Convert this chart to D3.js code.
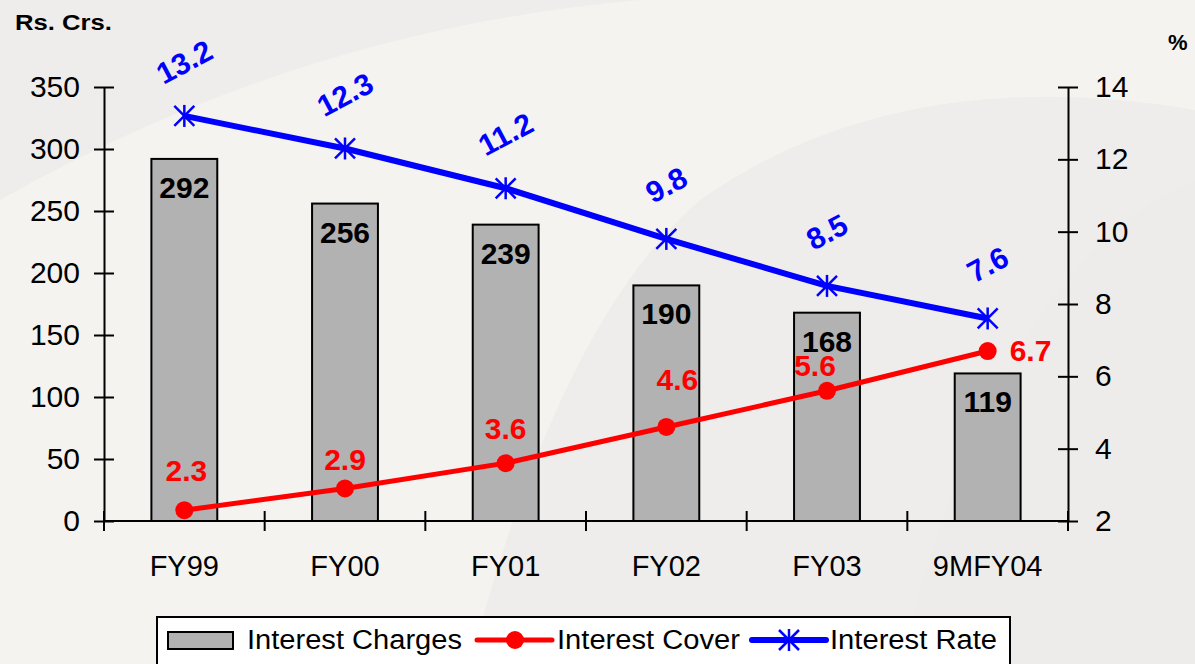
<!DOCTYPE html>
<html lang="en">
<head>
  <meta charset="UTF-8" />
  <title>Interest Charges, Cover and Rate</title>
  <script src="https://d3js.org/d3.v7.min.js"></script>
  <style>
    body { margin: 0; background: #f2f0ed; }
    svg text { font-family: "Liberation Sans", Arial, sans-serif; }
  </style>
</head>
<body>
  <svg id="chart" width="1195" height="664"></svg>
  <script>
    // data
    const categories = ["FY99", "FY00", "FY01", "FY02", "FY03", "9MFY04"];
    const interestCharges = [292, 256, 239, 190, 168, 119];
    const interestCover = [2.3, 2.9, 3.6, 4.6, 5.6, 6.7];
    const interestRate = [13.2, 12.3, 11.2, 9.8, 8.5, 7.6];
    const leftTicks = [0, 50, 100, 150, 200, 250, 300, 350];
    const rightTicks = [2, 4, 6, 8, 10, 12, 14];

    // where the red labels sit relative to their points (as placed on the slide)
    const coverLabelShift = [[2, -29], [0, -18], [0, -24], [11, -37], [-12, -15], [22, 10]];

    const svg = d3.select("#chart"),
      width = +svg.attr("width"),
      height = +svg.attr("height");

    // faint background wedges like the slide template
    const bg = svg.append("g");
    bg.append("rect").attr("width", width).attr("height", height).attr("fill", "#efedeb");
    bg.append("path").attr("d", "M0,200 Q300,30 640,0 L1195,0 L1195,110 Q900,60 700,200 Q560,320 470,664 L0,664 Z")
      .attr("fill", "#f5f3f0");
    bg.append("path").attr("d", "M1195,180 Q1000,260 900,664 L1195,664 Z").attr("fill", "#eeecea");

    const plotLeft = 104, plotRight = 1068, plotTop = 87, plotBottom = 521;

    const x = d3.scaleBand().domain(categories).range([plotLeft, plotRight]).paddingInner(0.59).paddingOuter(0.295);
    const xEdge = d3.scaleLinear().domain([0, categories.length]).range([plotLeft, plotRight]);
    const yL = d3.scaleLinear().domain([0, 350]).range([plotBottom, plotTop]);
    const yR = d3.scaleLinear().domain([2, 14]).range([plotBottom, plotTop]);
    const cx = d => x(d) + x.bandwidth() / 2;

    // axes
    const axisStyle = g => {
      g.select(".domain").attr("stroke", "#000").attr("stroke-width", 2);
      g.selectAll(".tick line").attr("stroke", "#000").attr("stroke-width", 2);
      g.selectAll(".tick text").attr("font-size", 30).attr("fill", "#000");
    };

    svg.append("g")
      .attr("transform", `translate(${plotLeft},0)`)
      .call(d3.axisLeft(yL).tickValues(leftTicks).tickSizeOuter(0).tickSizeInner(10).tickPadding(14))
      .call(axisStyle)
      .call(g => g.selectAll(".tick line").attr("x2", 10).attr("x1", -10));

    svg.append("g")
      .attr("transform", `translate(${plotRight},0)`)
      .call(d3.axisRight(yR).tickValues(rightTicks).tickSizeOuter(0).tickSizeInner(10).tickPadding(17))
      .call(axisStyle)
      .call(g => g.selectAll(".tick line").attr("x2", -10).attr("x1", 10));

    // x axis line with ticks at band boundaries
    const xg = svg.append("g");
    xg.append("line").attr("x1", plotLeft).attr("x2", plotRight).attr("y1", plotBottom).attr("y2", plotBottom)
      .attr("stroke", "#000").attr("stroke-width", 2);
    xg.selectAll("line.tk").data(d3.range(categories.length + 1)).enter().append("line")
      .attr("class", "tk")
      .attr("x1", d => xEdge(d)).attr("x2", d => xEdge(d))
      .attr("y1", plotBottom - 10).attr("y2", plotBottom + 10)
      .attr("stroke", "#000").attr("stroke-width", 2);
    xg.selectAll("text").data(categories).enter().append("text")
      .attr("x", cx).attr("y", 576).attr("text-anchor", "middle")
      .attr("font-size", 29).text(d => d);

    // bars
    svg.selectAll("rect.bar").data(interestCharges).enter().append("rect")
      .attr("class", "bar")
      .attr("x", (d, i) => x(categories[i]))
      .attr("y", d => yL(d))
      .attr("width", x.bandwidth())
      .attr("height", d => plotBottom - yL(d))
      .attr("fill", "#b2b2b2").attr("stroke", "#000").attr("stroke-width", 2);

    svg.selectAll("text.barlab").data(interestCharges).enter().append("text")
      .attr("class", "barlab")
      .attr("x", (d, i) => cx(categories[i]))
      .attr("y", d => yL(d) + 39)
      .attr("text-anchor", "middle").attr("font-size", 30).attr("font-weight", "bold")
      .text(d => d);

    // interest rate line
    const line = d3.line().x((d, i) => cx(categories[i])).y(d => yR(d));
    svg.append("path").datum(interestRate).attr("d", line)
      .attr("fill", "none").attr("stroke", "#0000ff").attr("stroke-width", 6).attr("stroke-linejoin", "round");

    const drawStar = (g, s) => {
      [[-s, -s, s, s], [-s, s, s, -s], [0, -s - 1, 0, s + 1]].forEach(c => {
        g.append("line").attr("x1", c[0]).attr("y1", c[1]).attr("x2", c[2]).attr("y2", c[3])
          .attr("stroke", "#0000ff").attr("stroke-width", 2.5);
      });
    };

    svg.selectAll("g.star").data(interestRate).enter().append("g")
      .attr("class", "star")
      .attr("transform", (d, i) => `translate(${cx(categories[i])},${yR(d)})`)
      .each(function () { drawStar(d3.select(this), 10); });

    svg.selectAll("text.ratelab").data(interestRate).enter().append("text")
      .attr("class", "ratelab")
      .attr("transform", (d, i) => `translate(${cx(categories[i])},${yR(d) - 54}) rotate(-28)`)
      .attr("text-anchor", "middle").attr("dominant-baseline", "central")
      .attr("font-size", 30).attr("font-weight", "bold")
      .attr("fill", "#0000ff").text(d => d.toFixed(1));

    // interest cover line
    svg.append("path").datum(interestCover).attr("d", line)
      .attr("fill", "none").attr("stroke", "#ff0000").attr("stroke-width", 5);
    svg.selectAll("circle.cov").data(interestCover).enter().append("circle")
      .attr("class", "cov")
      .attr("cx", (d, i) => cx(categories[i])).attr("cy", d => yR(d)).attr("r", 9)
      .attr("fill", "#ff0000");

    const last = interestCover.length - 1;
    svg.selectAll("text.covlab").data(interestCover).enter().append("text")
      .attr("class", "covlab")
      .attr("x", (d, i) => cx(categories[i]) + coverLabelShift[i][0])
      .attr("y", (d, i) => yR(d) + coverLabelShift[i][1])
      .attr("text-anchor", (d, i) => i === last ? "start" : "middle")
      .attr("font-size", 30).attr("font-weight", "bold")
      .attr("fill", "#ff0000").text(d => d.toFixed(1));

    // axis titles
    svg.append("text").attr("x", 15).attr("y", 30).attr("font-size", 22).attr("font-weight", "bold")
      .attr("textLength", 97).attr("lengthAdjust", "spacingAndGlyphs").text("Rs. Crs.");
    svg.append("text").attr("x", 1168).attr("y", 50).attr("font-size", 22).attr("font-weight", "bold").text("%");

    // legend
    const lg = svg.append("g");
    lg.append("rect").attr("x", 157).attr("y", 617).attr("width", 853).attr("height", 60)
      .attr("fill", "#fff").attr("stroke", "#000").attr("stroke-width", 2);
    lg.append("rect").attr("x", 168).attr("y", 632).attr("width", 65).attr("height", 17)
      .attr("fill", "#b2b2b2").attr("stroke", "#000").attr("stroke-width", 2);
    lg.append("text").attr("x", 247).attr("y", 649).attr("font-size", 27)
      .attr("textLength", 215).attr("lengthAdjust", "spacingAndGlyphs").text("Interest Charges");
    lg.append("line").attr("x1", 477).attr("x2", 552).attr("y1", 640).attr("y2", 640)
      .attr("stroke", "#ff0000").attr("stroke-width", 5).attr("stroke-linecap", "round");
    lg.append("circle").attr("cx", 515).attr("cy", 640).attr("r", 9).attr("fill", "#ff0000");
    lg.append("text").attr("x", 557).attr("y", 649).attr("font-size", 27)
      .attr("textLength", 183).attr("lengthAdjust", "spacingAndGlyphs").text("Interest Cover");
    lg.append("line").attr("x1", 752).attr("x2", 826).attr("y1", 640).attr("y2", 640)
      .attr("stroke", "#0000ff").attr("stroke-width", 6).attr("stroke-linecap", "round");
    drawStar(lg.append("g").attr("transform", "translate(789,640)"), 10);
    lg.append("text").attr("x", 830).attr("y", 649).attr("font-size", 27)
      .attr("textLength", 167).attr("lengthAdjust", "spacingAndGlyphs").text("Interest Rate");
  </script>
</body>
</html>
